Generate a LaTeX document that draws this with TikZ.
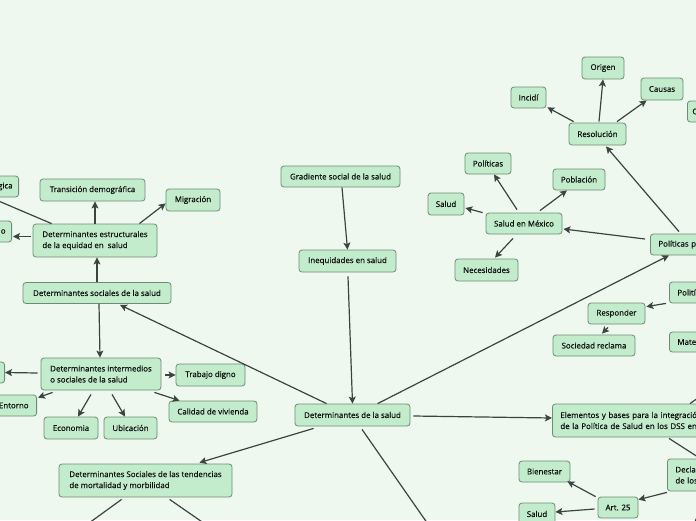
\documentclass[tikz,border=0pt]{standalone}
\usepackage{fontspec}
\setmainfont{Open Sans}
\newfontfamily\nodefam{Open Sans}[FakeBold=0.5]
\usetikzlibrary{arrows.meta,calc}
\definecolor{bgc}{HTML}{EFF8EE}
\definecolor{nfill}{HTML}{C2ECCC}
\definecolor{nborder}{HTML}{6E8C75}
\definecolor{lnc}{HTML}{3B4540}
\definecolor{txc}{HTML}{111111}
\newcommand{\dfont}{\nodefam\fontsize{7.9}{11}\selectfont}
\begin{document}
\begin{tikzpicture}[x=1pt,y=-1pt,
  box/.style={draw=nborder, fill=nfill, line width=0.8pt, rounded corners=3pt,
    inner xsep=0pt, inner ysep=0pt, font=\dfont, text=txc, align=center},
  rbox/.style={box, anchor=west, align=left, inner xsep=8pt},
  lbox/.style={box, anchor=east, align=right, inner xsep=7pt},
  con/.style={draw=lnc, line width=1.2pt, -{Stealth[length=7pt,width=7pt,inset=1.5pt]}}
]
\useasboundingbox (0,0) rectangle (696,520);
\fill[bgc] (0,0) rectangle (696,520);
\clip (0,0) rectangle (696,520);

% ---------- nodes (left part)
\node[lbox, text width=45pt, inner xsep=6pt, minimum height=21pt] (gica) at (19,186.5) {gica};
\node[box, minimum width=105pt, minimum height=22pt] (trans) at (92.5,190) {Transición demográfica};
\node[box, minimum width=54pt, minimum height=22pt] (migr) at (193,200) {Migración};
\node[lbox, text width=30pt, inner xsep=6pt, minimum height=21pt] (onode) at (12,231.5) {o};
\node[box, align=left, minimum width=124pt, minimum height=33pt] (estr) at (95,240.5) {Determinantes estructurales\\de la equidad en\ \ salud};
\node[box, minimum width=148pt, minimum height=21pt] (socs) at (97,293) {Determinantes sociales de la salud};
\node[box, align=left, minimum width=120pt, minimum height=32pt] (inter) at (101,374) {Determinantes intermedios\\o sociales de la salud};
\node[lbox, text width=30pt, minimum height=21pt] (leftint) at (5,372.5) {};
\node[lbox, text width=40pt, inner xsep=8pt, minimum height=21pt] (entorno) at (37,405.5) {Entorno};
\node[box, minimum width=54pt, minimum height=22pt] (econ) at (71,428) {Economia};
\node[box, minimum width=53pt, minimum height=22pt] (ubic) at (130.5,428) {Ubicación};
\node[box, minimum width=69pt, minimum height=22pt] (trab) at (210.5,375) {Trabajo digno};
\node[box, minimum width=88pt, minimum height=21pt] (cal) at (213,411.5) {Calidad de vivienda};
\node[box, align=left, minimum width=173pt, minimum height=33pt] (tend) at (145.5,480.5) {Determinantes Sociales de las tendencias\\de mortalidad y morbilidad};

% ---------- centre
\node[box, minimum width=119pt, minimum height=21pt] (grad) at (340.5,176.5) {Gradiente social de la salud};
\node[box, minimum width=97pt, minimum height=22pt] (ineq) at (347.5,261) {Inequidades en salud};
\node[box, minimum width=115pt, minimum height=22pt] (dsal) at (352.5,415) {Determinantes de la salud};

% ---------- right part
\node[box, minimum width=42pt, minimum height=22pt] (origen) at (603,68) {Origen};
\node[box, minimum width=35pt, minimum height=21pt] (incidi) at (528.5,97.5) {Incidí};
\node[box, minimum width=42pt, minimum height=22pt] (causas) at (662,89) {Causas};
\node[rbox, text width=40pt, inner xsep=5pt, minimum height=21pt] (cnode) at (687,111.5) {C};
\node[box, minimum width=57pt, minimum height=22pt] (resol) at (597.5,134) {Resolución};
\node[box, minimum width=46pt, minimum height=21pt] (polit) at (488,163.5) {Políticas};
\node[box, minimum width=52pt, minimum height=21pt] (pobl) at (579,179.5) {Población};
\node[box, minimum width=36pt, minimum height=22pt] (salud1) at (446,204) {Salud};
\node[box, minimum width=76pt, minimum height=21pt] (smex) at (524,223.5) {Salud en México};
\node[box, minimum width=63pt, minimum height=22pt] (neces) at (486.5,270) {Necesidades};
\node[rbox, text width=60pt, minimum height=21pt] (polp) at (650,244.5) {Políticas p};
\node[rbox, text width=40pt, minimum height=21pt] (politi) at (669,292.5) {Polití};
\node[box, minimum width=57pt, minimum height=21pt] (resp) at (616.5,313.5) {Responder};
\node[box, minimum width=82pt, minimum height=21pt] (socr) at (594,345.5) {Sociedad reclama};
\node[rbox, text width=40pt, minimum height=20pt] (mate) at (669,342) {Mate};
\node[rbox, text width=150pt, minimum height=33pt] (elem) at (552,420.5) {Elementos y bases para la integración\\de la Política de Salud en los DSS en};
\node[rbox, text width=60pt, minimum height=32pt] (decla) at (667,475) {Decla\\de los};
\node[box, minimum width=40pt, minimum height=21pt] (art) at (618,507.5) {Art. 25};
\node[box, minimum width=51pt, minimum height=21pt] (bien) at (544.5,471.5) {Bienestar};
\node[box, minimum width=36pt, minimum height=22pt] (salud2) at (537,514) {Salud};

% off-canvas ends
\coordinate (belowD) at (453,560);
\coordinate (belowT1) at (38,560);
\coordinate (belowT2) at (257,560);
\coordinate (offElem) at (750,361);
\coordinate (offDecla) at (712,466);
\coordinate (offD2) at (680,560);

% ---------- connectors
\path[con] (estr.north) -- (estr.north |- trans.south);
\path[con] ($(estr.north east)+(-18,0)$) -- ($(migr.south west)+(0,-8)$);
\path[con] ($(estr.north west)+(19,0)$) -- (gica.south);
\path[con] ($(estr.west)+(-2,-4)$) -- ($(onode.east)+(1,5)$);
\path[con] (socs.north) -- (socs.north |- estr.south);
\path[con] ($(socs.south)+(2,0)$) -- ($(inter.north)+(-1,0)$);
\path[con] ($(inter.west)+(-3,-1)$) -- (leftint.east);
\path[con] ($(inter.south west)+(12,2)$) -- ($(entorno.north east)+(1,3)$);
\path[con] ($(inter.south)+(-10,4)$) -- ($(econ.north)+(7,0)$);
\path[con] ($(inter.south)+(11,4)$) -- ($(ubic.north)+(-5.5,0)$);
\path[con] ($(inter.east)+(4,1)$) -- (trab.west);
\path[con] ($(inter.south east)+(-7,2)$) -- ($(cal.north west)+(11,0)$);
\path[con] ($(dsal.north west)+(32,0)$) -- ($(socs.south)+(23,1)$);
\path[con] ($(grad.south)+(1.5,0)$) -- (ineq.north);
\path[con] ($(ineq.south)+(0.5,4)$) -- (dsal.north);
\path[con] ($(dsal.north west)+(83,0)$) -- ($(polp.south west)+(19,0)$);
\path[con] ($(dsal.south west)+(19,2)$) -- ($(tend.north east)+(-33,-1)$);
\path[con] ($(dsal.east)+(3,1)$) -- ($(elem.west)+(0,-2.5)$);
\path[con] ($(dsal.south)+(9.5,3)$) -- (belowD);
\path[con] ($(tend.south west)+(63,2)$) -- (belowT1);
\path[con] ($(tend.south west)+(111,2)$) -- (belowT2);
\path[con] ($(polp.west)+(-5,-5.5)$) -- ($(smex.east)+(1,5.5)$);
\path[con] ($(polp.north west)+(29,-2)$) -- ($(resol.south)+(8.5,1)$);
\path[con] ($(smex.north)+(-7,-3)$) -- ($(polit.south)+(6,0)$);
\path[con] ($(smex.north)+(16,-2)$) -- ($(pobl.south)+(-12,0)$);
\path[con] ($(smex.north west)+(-3,0)$) -- ($(salud1.east)+(1,4)$);
\path[con] ($(smex.south)+(-11,4)$) -- ($(neces.north)+(8.5,-1)$);
\path[con] ($(resol.north west)+(5,-1)$) -- ($(incidi.south east)+(1,-1)$);
\path[con] ($(resol.north)+(1.5,-1)$) -- (origen.south);
\path[con] ($(resol.north)+(19.5,-1)$) -- ($(causas.south west)+(6,0)$);
\path[con] ($(politi.south west)+(-3,0)$) -- ($(resp.north east)+(1,4)$);
\path[con] ($(resp.south)+(-8.5,3)$) -- ($(socr.north)+(8,-1)$);
\path[con] ($(elem.north west)+(138,0)$) -- (offElem);
\path[con] ($(elem.south west)+(117,1)$) -- (offDecla);
\path[con] ($(decla.south west)+(0,1)$) -- ($(art.north east)+(0,3)$);
\path[con] ($(decla.south west)+(40,0)$) -- (offD2);
\path[con] ($(art.north west)+(-2,0)$) -- ($(bien.south east)+(-3,-1)$);
\path[con] ($(art.west)+(-3,1.5)$) -- ($(salud2.east)+(0,-2)$);
\end{tikzpicture}
\end{document}
